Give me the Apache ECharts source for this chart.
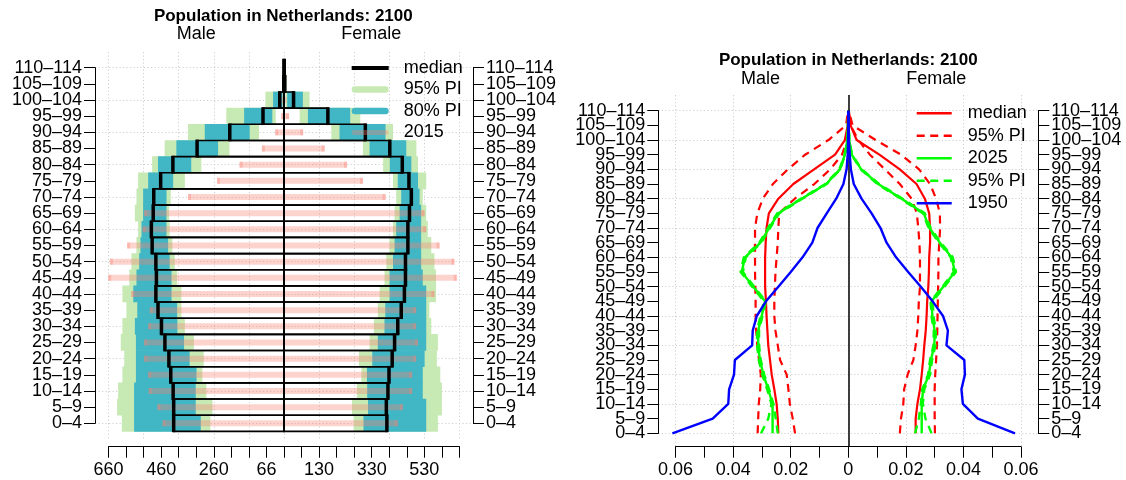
<!DOCTYPE html>
<html><head><meta charset="utf-8">
<script src="https://cdn.jsdelivr.net/npm/echarts@6/dist/echarts.min.js"></script>
<style>html,body{margin:0;padding:0;background:#fff}#c{width:1126px;height:480px}</style>
</head><body><div id="c"></div>
<script>
// ---------- categories / tick labels ----------
const ageGroups = ['0–4','5–9','10–14','15–19','20–24','25–29','30–34','35–39','40–44','45–49','50–54','55–59','60–64','65–69','70–74','75–79','80–84','85–89','90–94','95–99','100–104','105–109','110–114'];
const leftTickLabels = ['660','','','460','','','260','','','66','','','130','','','330','','','530','',''];
const rightTickLabels = ['0.06','','0.04','','0.02','','0','','0.02','','0.04','','0.06'];

// ---------- left panel: population (thousands), 2100 projection ----------
const maleLo95   = [277,269,292,307,302,339,373,386,386,402,411,420,430,432,426,373,311,205,94,31,3,0,0];
const maleLo80   = [313,332,332,329,355,376,401,402,423,423,430,436,442,442,442,417,349,248,129,44,6,0,0];
const maleMed    = [415,415,417,426,433,448,461,474,482,480,482,496,499,492,490,464,418,327,204,79,16,1,0];
const maleUp80   = [564,564,564,557,557,557,561,552,567,555,545,540,536,530,530,511,474,405,298,150,41,3,1];
const maleUp95   = [610,628,624,608,601,614,608,593,608,582,574,555,549,561,555,549,496,449,361,217,70,5,1];
const male2015   = [457,476,509,511,526,526,511,505,574,661,655,590,532,526,361,252,167,83,33,10,1,0,0];
const femaleLo95 = [262,256,274,291,282,322,338,353,360,378,385,397,410,416,422,410,373,297,178,59,5,0,0];
const femaleLo80 = [299,316,313,312,332,353,378,381,397,397,410,416,422,435,441,428,398,322,209,90,12,1,0];
const femaleMed  = [387,385,391,395,407,416,428,441,453,457,457,466,466,472,479,470,445,398,306,165,36,3,1];
const femaleUp80 = [535,535,522,522,529,535,535,535,535,522,516,516,516,516,510,504,479,460,382,249,71,6,1];
const femaleUp95 = [579,594,594,588,575,579,554,547,572,572,566,554,541,535,522,535,504,498,410,287,96,10,2];
const female2015 = [428,447,482,482,497,504,497,497,566,650,641,585,535,529,382,297,237,153,72,19,3,0,0];

// ---------- right panel: proportions ----------
const medM   = [0.0243,0.0245,0.0249,0.0257,0.0266,0.0272,0.0278,0.0281,0.0284,0.0286,0.0289,0.0289,0.0289,0.0287,0.0284,0.0276,0.0243,0.0191,0.0119,0.0046,0.0012,0.0002,0.0000];
const medF   = [0.0234,0.0234,0.0240,0.0249,0.0255,0.0260,0.0264,0.0269,0.0272,0.0274,0.0278,0.0280,0.0281,0.0284,0.0284,0.0281,0.0266,0.0237,0.0179,0.0108,0.0029,0.0008,0.0002];
const loM    = [0.0185,0.0193,0.0203,0.0208,0.0214,0.0237,0.0245,0.0253,0.0257,0.0257,0.0255,0.0253,0.0249,0.0245,0.0243,0.0240,0.0186,0.0118,0.0063,0.0022,0.0004,0.0001,0.0000];
const hiM    = [0.0315,0.0313,0.0311,0.0306,0.0304,0.0310,0.0316,0.0320,0.0322,0.0322,0.0323,0.0324,0.0324,0.0324,0.0324,0.0316,0.0297,0.0262,0.0210,0.0150,0.0069,0.0008,0.0001];
const loF    = [0.0179,0.0183,0.0191,0.0194,0.0206,0.0226,0.0234,0.0240,0.0243,0.0245,0.0249,0.0249,0.0249,0.0247,0.0243,0.0238,0.0220,0.0179,0.0127,0.0075,0.0035,0.0008,0.0001];
const hiF    = [0.0301,0.0300,0.0300,0.0300,0.0302,0.0305,0.0308,0.0309,0.0310,0.0311,0.0312,0.0313,0.0313,0.0316,0.0319,0.0318,0.0305,0.0284,0.0246,0.0183,0.0095,0.0015,0.0002];
const y2025M   = [0.0263,0.0263,0.0263,0.0278,0.0295,0.0307,0.0313,0.0313,0.0301,0.0289,0.0330,0.0370,0.0359,0.0305,0.0275,0.0243,0.0162,0.0077,0.0029,0.0012,0.0003,0.0001,0.0000];
const y2025F   = [0.0255,0.0255,0.0255,0.0260,0.0280,0.0287,0.0299,0.0300,0.0292,0.0289,0.0330,0.0370,0.0359,0.0318,0.0282,0.0262,0.0185,0.0104,0.0045,0.0012,0.0003,0.0001,0.0000];
const y2025LoM = [0.0245,0.0252,0.0260,0.0275,0.0292,0.0304,0.0310,0.0310,0.0298,0.0286,0.0327,0.0366,0.0356,0.0302,0.0272,0.0240,0.0160,0.0075,0.0028,0.0011,0.0003,0.0001,0.0000];
const y2025HiM = [0.0303,0.0278,0.0267,0.0282,0.0299,0.0311,0.0317,0.0317,0.0305,0.0293,0.0334,0.0374,0.0363,0.0309,0.0279,0.0247,0.0165,0.0080,0.0031,0.0013,0.0004,0.0001,0.0000];
const y2025LoF = [0.0232,0.0245,0.0252,0.0257,0.0277,0.0284,0.0296,0.0297,0.0289,0.0286,0.0327,0.0366,0.0356,0.0315,0.0279,0.0259,0.0182,0.0101,0.0043,0.0011,0.0003,0.0001,0.0000];
const y2025HiF = [0.0289,0.0268,0.0259,0.0264,0.0284,0.0291,0.0303,0.0304,0.0296,0.0293,0.0334,0.0374,0.0363,0.0322,0.0286,0.0266,0.0189,0.0107,0.0047,0.0013,0.0004,0.0001,0.0000];
const y1950M   = [0.0611,0.0471,0.0417,0.0414,0.0397,0.0394,0.0334,0.0332,0.0318,0.0286,0.0243,0.0200,0.0159,0.0125,0.0107,0.0075,0.0042,0.0017,0.0006,0.0002,0.0001,0.0000,0.0000];
const y1950F   = [0.0579,0.0450,0.0398,0.0393,0.0405,0.0403,0.0341,0.0346,0.0329,0.0293,0.0252,0.0208,0.0166,0.0133,0.0112,0.0081,0.0046,0.0019,0.0009,0.0005,0.0002,0.0001,0.0000];

// ---------- styling ----------
const FONT = '"Liberation Sans", Arial, Helvetica, sans-serif';
const GREEN = '#c7e9b4', TEAL = '#41b6c4', SALMON = 'rgba(250,128,114,0.35)';
const DOT = {color:'#cfcfcf', width:1, type:[1.2,2.3]};
const AXL = {show:true, onZero:false, lineStyle:{color:'#000', width:1}};
const TICK = {show:true, length:11, inside:false, lineStyle:{color:'#000', width:1}};
const LAB = {fontSize:18, color:'#000', fontFamily:FONT, hideOverlap:false, showMinLabel:true, showMaxLabel:true};

const chart = echarts.init(document.getElementById('c'), null, {renderer:'canvas'});

function hidden(grid, min, max) {
  return {type:'value', gridIndex:grid, min, max, show:false, axisLine:{onZero:false}, splitLine:{show:false}};
}

function bandSeries(name, lo, hi, sign, color) {
  return {
    type:'custom', name, xAxisIndex:0, yAxisIndex:0, z:2, silent:true,
    itemStyle:{color}, encode:{x:[1,2], y:0},
    data: lo.map((v,i) => [i, sign*v, sign*hi[i]]),
    renderItem: (p, api) => {
      const i = api.value(0);
      const a = api.coord([api.value(1), i]);
      const b = api.coord([api.value(2), i]);
      const h = api.size([0,1])[1];
      return {type:'rect', shape:{x:Math.min(a[0],b[0]), y:a[1]-h/2-0.3, width:Math.abs(b[0]-a[0]), height:h+0.6}, style:{fill:color}};
    }
  };
}

const leftSeries = [
  bandSeries('95% PI', maleLo95, maleUp95, -1, GREEN),
  bandSeries('95% PI', femaleLo95, femaleUp95, 1, GREEN),
  bandSeries('80% PI', maleLo80, maleUp80, -1, TEAL),
  bandSeries('80% PI', femaleLo80, femaleUp80, 1, TEAL),
  {
    type:'custom', name:'2015', xAxisIndex:0, yAxisIndex:0, z:3, silent:true,
    itemStyle:{color:SALMON}, encode:{x:[1,2], y:0},
    data: male2015.map((v,i) => [i, -v, female2015[i]]),
    renderItem: (p, api) => {
      const i = api.value(0);
      const a = api.coord([api.value(1), i]);
      const b = api.coord([api.value(2), i]);
      const w = b[0]-a[0];
      if (w < 1) return null;
      const bh = 6, cw = 3, y = a[1]-bh/2;
      return {type:'group', children:[
        {type:'rect', shape:{x:a[0], y, width:w, height:bh}, style:{fill:SALMON}},
        {type:'rect', shape:{x:a[0], y, width:cw, height:bh}, style:{fill:SALMON}},
        {type:'rect', shape:{x:b[0]-cw, y, width:cw, height:bh}, style:{fill:SALMON}}
      ]};
    }
  },
  {
    type:'custom', name:'median', xAxisIndex:0, yAxisIndex:0, z:4, silent:true,
    itemStyle:{color:'#000'}, encode:{x:[1,2], y:0},
    data: maleMed.map((v,i) => [i, -v, femaleMed[i]]),
    renderItem: (p, api) => {
      const i = api.value(0);
      const a = api.coord([api.value(1), i]);
      const b = api.coord([api.value(2), i]);
      const c = api.coord([0, i]);
      const h = api.size([0,1])[1];
      const y0 = c[1]-h/2;
      return {type:'group', children:[
        {type:'rect', shape:{x:a[0], y:y0, width:c[0]-a[0], height:h}, style:{fill:'none', stroke:'#000', lineWidth:1.6}},
        {type:'rect', shape:{x:c[0], y:y0, width:b[0]-c[0], height:h}, style:{fill:'none', stroke:'#000', lineWidth:1.6}},
        {type:'line', shape:{x1:a[0], y1:y0-0.8, x2:a[0], y2:y0+h+0.8}, style:{stroke:'#000', lineWidth:3.5}},
        {type:'line', shape:{x1:b[0], y1:y0-0.8, x2:b[0], y2:y0+h+0.8}, style:{stroke:'#000', lineWidth:3.5}},
        {type:'line', shape:{x1:c[0], y1:y0, x2:c[0], y2:y0+h}, style:{stroke:'#000', lineWidth:2}}
      ]};
    }
  }
];

function lineS(name, vals, sign, color, dashed, width, z) {
  return {
    type:'line', name, xAxisIndex:4, yAxisIndex:5, z, silent:true, animation:false,
    symbol:'none', showSymbol:false, clip:false,
    data: vals.map((v,i) => [sign*v, i]),
    lineStyle:{color, width, type: dashed ? [8,6] : 'solid'},
    itemStyle:{color}
  };
}

const N_MED = 'median\u200b', N_PI = '95% PI\u200b', N_PI2 = '95% PI\u200b\u200b';
const rightSeries = [
  lineS(N_MED, medM, -1, '#ff0000', false, 2.2, 3),
  lineS(N_MED, medF, 1, '#ff0000', false, 2.2, 3),
  lineS(N_PI, loM, -1, '#ff0000', true, 2.2, 3),
  lineS(N_PI, hiM, -1, '#ff0000', true, 2.2, 3),
  lineS(N_PI, loF, 1, '#ff0000', true, 2.2, 3),
  lineS(N_PI, hiF, 1, '#ff0000', true, 2.2, 3),
  lineS('2025', y2025M, -1, '#00ff00', false, 2.4, 4),
  lineS('2025', y2025F, 1, '#00ff00', false, 2.4, 4),
  lineS(N_PI2, y2025LoM, -1, '#00ff00', true, 2.4, 4),
  lineS(N_PI2, y2025HiM, -1, '#00ff00', true, 2.4, 4),
  lineS(N_PI2, y2025LoF, 1, '#00ff00', true, 2.4, 4),
  lineS(N_PI2, y2025HiF, 1, '#00ff00', true, 2.4, 4),
  lineS('1950', y1950M, -1, '#0000ff', false, 2.4, 5),
  lineS('1950', y1950F, 1, '#0000ff', false, 2.4, 5)
];
rightSeries[0].markLine = {silent:true, symbol:['none','none'], animation:false, label:{show:false},
  lineStyle:{color:'#000', width:1.5, type:'solid'}, data:[{xAxis:0}]};

function gtext(text, x, y, bold) {
  return {type:'text', x, y, z:100, style:{text, fill:'#000',
    font:(bold ? 'bold 17px ' : '18px ') + FONT,
    textAlign:'center', textVerticalAlign:'middle', align:'center', verticalAlign:'middle'}};
}

const SOLID_ICON = 'path://M0,0h35v2.6h-35z';
const DASH_ICON = 'path://M0,0h8v2.6h-8zM13.5,0h8v2.6h-8zM27,0h8v2.6h-8z';

// axis line + ticks for rows 0..22 (no labels)
function yLineAxis(grid, position) {
  return {type:'value', gridIndex:grid, min:0, max:22, interval:1, position,
    axisLine:AXL, axisTick:TICK, splitLine:{show:false}, axisLabel:{show:false}};
}
// labels only, on a grid padded by one row each side (rows -1..23)
function yLabelAxis(grid, position) {
  return {type:'value', gridIndex:grid, min:-1, max:23, interval:1, position,
    axisLine:{show:false, onZero:false}, axisTick:{show:false}, splitLine:{show:false},
    axisLabel:Object.assign({}, LAB, {margin:13, showMinLabel:false, showMaxLabel:false,
      formatter:(v) => ageGroups[Math.round(v)] || ''})};
}
function ySplitAxis(grid) {
  return {type:'value', gridIndex:grid, min:0, max:22, interval:2, position:'left',
    axisLine:{show:false, onZero:false}, axisTick:{show:false}, axisLabel:{show:false}, splitLine:{show:true, lineStyle:DOT}};
}

const LROW = 355.6/22, RROW = 322.6/22;

const option = {
  animation:false,
  textStyle:{fontFamily:FONT},
  graphic:[
    gtext('Population in Netherlands: 2100', 283.3, 16.5, true),
    gtext('Male', 196.3, 33.8), gtext('Female', 371.2, 33.8),
    gtext('Population in Netherlands: 2100', 848.3, 60.8, true),
    gtext('Male', 760.5, 79.2), gtext('Female', 936.2, 79.2)
  ],
  grid:[
    {left:95, top:52, width:378, height:395, outerBoundsMode:'none'},
    {left:108.556, top:52, width:350.886, height:388, outerBoundsMode:'none'},
    {left:95, top:67.7, width:378, height:355.6, outerBoundsMode:'none'},
    {left:658.3, top:95, width:380, height:352, outerBoundsMode:'none'},
    {left:675.573, top:95, width:345.455, height:351.7, outerBoundsMode:'none'},
    {left:658.3, top:110.7, width:380, height:322.6, outerBoundsMode:'none'},
    {left:95, top:67.7-LROW, width:378, height:355.6+2*LROW, outerBoundsMode:'none'},
    {left:658.3, top:110.7-RROW, width:380, height:322.6+2*RROW, outerBoundsMode:'none'}
  ],
  xAxis:[
    hidden(0, -711, 711),
    {type:'value', gridIndex:1, min:-660, max:660, interval:66, position:'bottom', offset:6.7,
      axisLine:AXL, axisTick:TICK, splitLine:{show:false},
      axisLabel:Object.assign({margin:14, formatter:(v) => leftTickLabels[Math.round(v/66)+10]}, LAB)},
    {type:'value', gridIndex:1, min:-660, max:660, interval:132,
      axisLine:{show:false, onZero:false}, axisTick:{show:false}, axisLabel:{show:false}, splitLine:{show:true, lineStyle:DOT}},
    hidden(2, 0, 1),
    hidden(3, -0.066, 0.066),
    {type:'value', gridIndex:4, min:-0.06, max:0.06, interval:0.01, position:'bottom', offset:0,
      axisLine:AXL, axisTick:TICK, splitLine:{show:false},
      axisLabel:Object.assign({margin:14, formatter:(v) => rightTickLabels[Math.round(v*100)+6]}, LAB)},
    {type:'value', gridIndex:4, min:-0.06, max:0.06, interval:0.02,
      axisLine:{show:false, onZero:false}, axisTick:{show:false}, axisLabel:{show:false}, splitLine:{show:true, lineStyle:DOT}},
    hidden(5, 0, 1),
    hidden(6, 0, 1),
    hidden(7, 0, 1)
  ],
  yAxis:[
    hidden(0, -1.4662, 22.971),
    hidden(1, 0, 1),
    yLineAxis(2, 'left'),
    yLineAxis(2, 'right'),
    ySplitAxis(2),
    hidden(3, -0.9343, 23.071),
    hidden(4, 0, 1),
    yLineAxis(5, 'left'),
    yLineAxis(5, 'right'),
    ySplitAxis(5),
    yLabelAxis(6, 'left'),
    yLabelAxis(6, 'right'),
    yLabelAxis(7, 'left'),
    yLabelAxis(7, 'right')
  ],
  legend:[
    {orient:'vertical', left:351.7, top:58, padding:0, itemWidth:37, itemHeight:7, itemGap:1.5, selectedMode:false, z:20,
      symbolKeepAspect:true,
      textStyle:{fontSize:18, color:'#000', fontFamily:FONT, lineHeight:20, padding:[0,0,0,10]},
      data:[
        {name:'median', icon:'path://M0,0h37v4h-37z', itemStyle:{color:'#000'}},
        {name:'95% PI', icon:'path://M3,0h31a3,3 0 0 1 0,6.5h-31a3,3 0 0 1 0,-6.5z', itemStyle:{color:GREEN}},
        {name:'80% PI', icon:'path://M3,0h31a3,3 0 0 1 0,6.5h-31a3,3 0 0 1 0,-6.5z', itemStyle:{color:TEAL}},
        {name:'2015', icon:'path://M2,0h33a2,2 0 0 1 0,5h-33a2,2 0 0 1 0,-5z', itemStyle:{color:SALMON}}
      ]},
    {orient:'vertical', left:916.7, top:103.3, padding:0, itemWidth:35, itemHeight:3, itemGap:2.5, selectedMode:false, z:20,
      symbolKeepAspect:true,
      textStyle:{fontSize:18, color:'#000', fontFamily:FONT, lineHeight:20, padding:[0,0,0,11]},
      data:[
        {name:N_MED, icon:SOLID_ICON, itemStyle:{color:'#ff0000'}},
        {name:N_PI, icon:DASH_ICON, itemStyle:{color:'#ff0000'}},
        {name:'2025', icon:SOLID_ICON, itemStyle:{color:'#00ff00'}},
        {name:N_PI2, icon:DASH_ICON, itemStyle:{color:'#00ff00'}},
        {name:'1950', icon:SOLID_ICON, itemStyle:{color:'#0000ff'}}
      ]}
  ],
  series: leftSeries.concat(rightSeries)
};
chart.setOption(option);
</script>
</body></html>
